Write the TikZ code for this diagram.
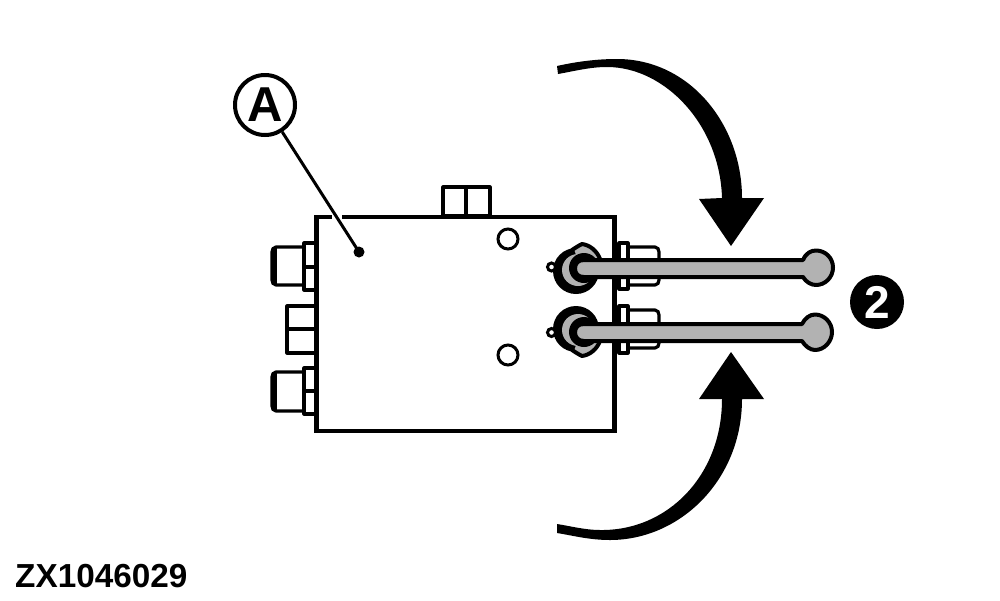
\documentclass[tikz,border=0pt]{standalone}
\usepackage{fontspec}
\setmainfont{Liberation Sans}
\definecolor{rodgray}{gray}{0.7}
\tikzset{
  ln/.style={draw=black,line width=3.2pt,line join=round},
  rodst/.style={draw=black,fill=rodgray,line width=4pt,line join=round},
  hole/.style={draw=black,fill=white,line width=3pt},
  pinst/.style={draw=black,fill=white,line width=3pt,circle,minimum size=8pt,inner sep=0pt,outer sep=0pt}
}
\begin{document}
\begin{tikzpicture}[x=1pt,y=-1pt]
\useasboundingbox (0,0) rectangle (1000,600);
% main block
\node[draw=black,line width=4.5pt,minimum width=298pt,minimum height=214pt,inner sep=0pt,outer sep=0pt,anchor=north west] (blockA) at (316.5,217) {};
\draw[ln] (443,216) rectangle (490,187) (466,187)--(466,216);
\draw[ln] (304,243) rectangle (316,290) (304,267)--(316,267);
\draw[ln,rounded corners=2pt] (304,247) -- (274,247) -- (272,250) -- (272,282) -- (274,285) -- (304,285);
\draw[ln] (275,248) -- (275,284);
\draw[ln] (316,306) -- (287,306) -- (287,353) -- (316,353) (287,329) -- (316,329);
\draw[ln] (304,368) rectangle (316,414) (304,391)--(316,391);
\draw[ln,rounded corners=2pt] (304,372) -- (274,372) -- (272,375) -- (272,408) -- (274,411) -- (304,411);
\draw[ln] (275,373) -- (275,410);
\node[hole,circle,minimum size=20pt,inner sep=0pt] (holeA) at (508,239) {};
\node[hole,circle,minimum size=20pt,inner sep=0pt] (holeB) at (508,355) {};
% right fittings
\draw[ln] (619,243) rectangle (628,289);
\draw[ln,rounded corners=2pt] (628,247) -- (657,247) -- (659,250) -- (659,282) -- (657,285) -- (628,285);
\draw[ln] (619,306) rectangle (628,353);
\draw[ln,rounded corners=2pt] (628,310) -- (657,310) -- (659,313) -- (659,345) -- (657,348) -- (628,348);
% top pivot
\fill[black] (576,271) circle (23);
\draw[rodst] (572,250) .. controls (575,248) and (578,246) .. (582,244) .. controls (590,245) and (597,251) .. (600,259) -- (590,266) -- (575,258) -- cycle;
\fill[rodgray] (578,270) circle (16);
\fill[black] (584,268) circle (15);
\node[pinst] (pinA) at (551.5,267) {};
% bottom pivot
\fill[black] (576,329) circle (23);
\draw[rodst] (572,350) .. controls (575,352) and (578,354) .. (582,356) .. controls (590,355) and (597,349) .. (600,341) -- (590,334) -- (575,342) -- cycle;
\fill[rodgray] (578,330) circle (16);
\fill[black] (584,332) circle (15);
\node[pinst] (pinB) at (551.5,332.5) {};
% rods
\draw[rodst] (584,260) -- (803,260) .. controls (806,253) and (811,250.5) .. (816,250.5) .. controls (825.4,250.5) and (833,258) .. (833,267.5) .. controls (833,277) and (825.4,285) .. (816,285) .. controls (811,285) and (806,282) .. (803,277) -- (584,277) .. controls (578.5,277) and (575,274) .. (575,268.5) .. controls (575,263) and (578.5,260) .. (584,260) -- cycle;
\draw[rodst] (584,324) -- (802,324) .. controls (805,318) and (810,314.5) .. (815,314.5) .. controls (824.4,314.5) and (832,322.6) .. (832,332) .. controls (832,341.4) and (824.4,350) .. (815,350) .. controls (810,350) and (805,346) .. (802,341) -- (584,341) .. controls (578.5,341) and (575,337.5) .. (575,332.5) .. controls (575,327) and (578.5,324) .. (584,324) -- cycle;
% arrows
\fill[black] (557,66) .. controls (575,62) and (595,59) .. (617,59) .. controls (690,59) and (742,125) .. (742,198) -- (764,198) -- (731,246) -- (699,199) -- (722,198) .. controls (720,125) and (665,67) .. (607,67) .. controls (590,67) and (575,71) .. (558,74) -- cycle;
\fill[black] (731,352) -- (764,399) -- (742,399) .. controls (742,480) and (680,540) .. (610,540) .. controls (590,540) and (575,536) .. (557,533) -- (557,524) .. controls (570,526) and (585,530) .. (600,530) .. controls (668,531) and (722,475) .. (722,399) -- (699,399) -- cycle;
% callouts
\draw[white,line width=7pt] (332,217) -- (342,217);
\node[draw=black,line width=4pt,circle,minimum size=60pt,inner sep=0pt,fill=white,font=\bfseries\fontsize{49}{49}\selectfont] (labelA) at (265,105) {A};
\fill[black] (359,252) circle (5.5) coordinate (dotA);
\draw[black,line width=3pt] (labelA) -- (dotA);
\node[circle,fill=black,minimum size=54pt,inner sep=0pt,text=white,font=\bfseries\fontsize{46}{46}\selectfont] (badge) at (877,302) {2};
\node[anchor=west,inner sep=0pt,font=\bfseries\fontsize{33.3}{33}\selectfont] (code) at (15,576) {ZX1046029};
\end{tikzpicture}
\end{document}
